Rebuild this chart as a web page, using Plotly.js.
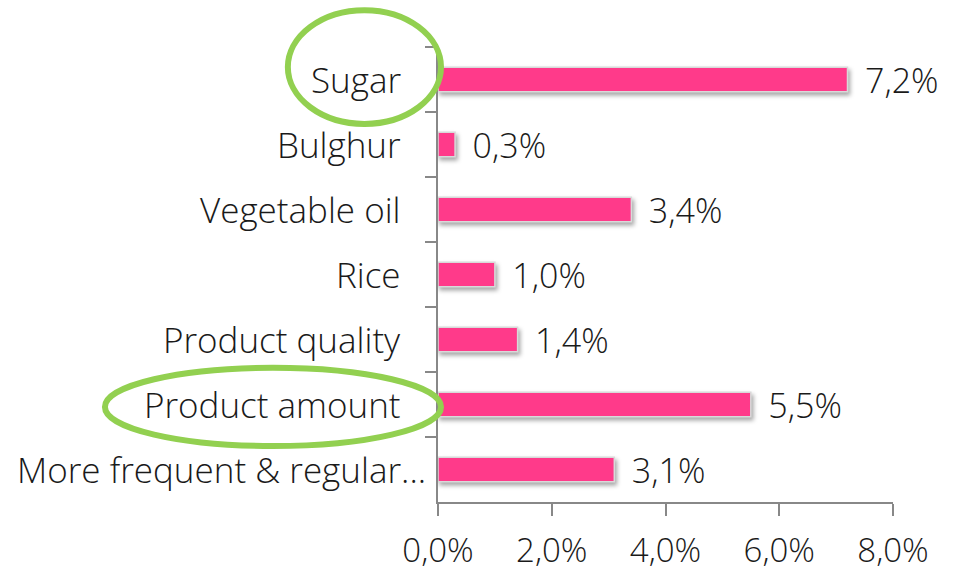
<!DOCTYPE html>
<html><head><meta charset="utf-8">
<script src="https://cdn.plot.ly/plotly-3.0.1.min.js"></script>
<style>
html,body{margin:0;padding:0;background:#fff;}
#chart{width:959px;height:574px;}
.trace.bars path{filter:drop-shadow(2px 3px 2px rgba(0,0,0,0.35));}
</style></head>
<body><div id="chart"></div>
<script>
const categories = ["Sugar","Bulghur","Vegetable oil","Rice","Product quality","Product amount","More frequent & regular..."];
const values = [0.072, 0.003, 0.034, 0.010, 0.014, 0.055, 0.031];
const xTicks = [0, 0.02, 0.04, 0.06, 0.08];
const highlighted = ["Sugar","Product amount"];

const FONT = "'Open Sans', 'Segoe UI', sans-serif";
const labelFont = {family: FONT, size: 34, color: '#1a1a1a', weight: 300};
const tickFont = {family: FONT, size: 33, color: '#1a1a1a', weight: 300};

const trace = {
  type: 'bar', orientation: 'h',
  x: values, y: categories,
  width: 0.38,
  marker: {color: '#FF3A8A', line: {color: '#D9D9D9', width: 1.5}},
  texttemplate: '\u00a0\u2009%{x:.1%}', textposition: 'outside', cliponaxis: false,
  constraintext: 'none',
  textfont: labelFont, outsidetextfont: labelFont,
  hoverinfo: 'none'
};

const annotations = categories.map((c, i) => ({
  xref: 'paper', x: 0, y: c, yref: 'y',
  text: c, showarrow: false, xanchor: 'right',
  xshift: (i === categories.length - 1) ? -10 : -35,
  font: {family: FONT, size: 35, color: '#1a1a1a', weight: 300}
}));

const ellipses = {
  "Sugar": {x0: -0.330, x1: 0.0066, y0: 0.831, y1: 1.081},
  "Product amount": {x0: -0.732, x1: 0.0066, y0: 0.123, y1: 0.295}
};
const shapes = highlighted.map(h => Object.assign({
  type: 'circle', xref: 'paper', yref: 'paper',
  line: {color: '#92D050', width: 6}
}, ellipses[h]));

const layout = {
  width: 959, height: 574,
  margin: {l: 438, r: 66, t: 47, b: 72},
  paper_bgcolor: '#fff', plot_bgcolor: '#fff',
  separators: ',.',
  showlegend: false,
  xaxis: {
    range: [0, 0.08], tickvals: xTicks, tickformat: '.1%',
    showgrid: false, zeroline: false,
    showline: true, linecolor: '#888', linewidth: 2,
    ticks: 'outside', ticklen: 12, tickwidth: 2, tickcolor: '#888',
    tickfont: tickFont,
    ticklabelstandoff: 6, fixedrange: true
  },
  yaxis: {
    type: 'category', categoryorder: 'array', categoryarray: categories,
    autorange: 'reversed',
    showgrid: false, zeroline: false,
    showline: true, linecolor: '#888', linewidth: 2,
    ticks: 'outside', tickson: 'boundaries', ticklen: 11, tickwidth: 2, tickcolor: '#888',
    showticklabels: false, fixedrange: true
  },
  annotations: annotations,
  shapes: shapes
};

Plotly.newPlot('chart', [trace], layout, {staticPlot: true, displayModeBar: false});
</script></body></html>
